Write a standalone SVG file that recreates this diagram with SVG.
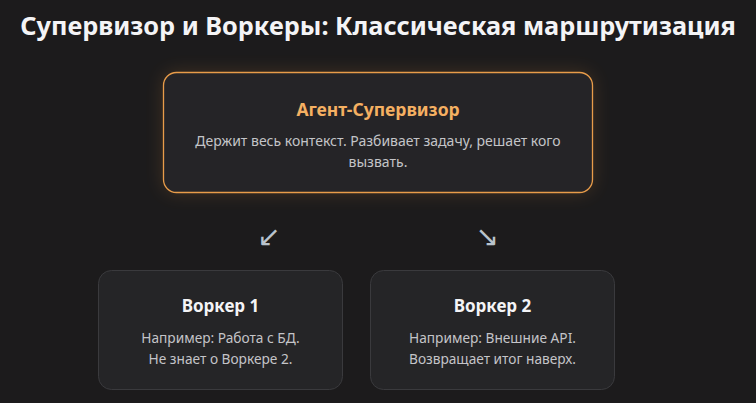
<svg xmlns="http://www.w3.org/2000/svg" width="756" height="403" viewBox="0 0 756 403">
  <defs>
    <filter id="glow" x="-20%" y="-40%" width="140%" height="180%">
      <feGaussianBlur stdDeviation="9"/>
    </filter>
    <style>
      text { font-family: "Noto Sans", "Open Sans", "DejaVu Sans", sans-serif; text-anchor: middle; }
      .title { font-size: 25.3px; font-weight: 700; fill: #f4f4f6; }
      .sup-title { font-size: 17.5px; font-weight: 700; fill: #f5b062; }
      .w-title { font-size: 17px; font-weight: 700; fill: #f4f4f6; }
      .desc { font-size: 14px; fill: #c4c4c8; }
      .wdesc { font-size: 13.7px; fill: #c4c4c8; }
      .arrow { font-family: "DejaVu Sans", sans-serif; font-size: 28px; fill: #b9c3cc; }
      .sup-box { fill: #252427; stroke: #e89c4a; stroke-width: 1.3; }
      .w-box { fill: #252527; stroke: #3a3a3d; stroke-width: 1; }
    </style>
  </defs>
  <rect width="756" height="403" fill="#1c1b1c"/>
  <text class="title" x="378" y="35">Супервизор и Воркеры: Классическая маршрутизация</text>

  <g id="supervisor">
    <rect x="163" y="72" width="430" height="121" rx="13" fill="#e8953a" opacity="0.18" filter="url(#glow)"/>
    <rect class="sup-box" x="163.5" y="72.5" width="429" height="120" rx="13"/>
    <text class="sup-title" x="378" y="116">Агент-Супервизор</text>
    <text class="desc" x="378" y="146">Держит весь контекст. Разбивает задачу, решает кого</text>
    <text class="desc" x="378" y="167">вызвать.</text>
  </g>

  <g id="connectors">
    <text class="arrow" x="269" y="246">↙</text>
    <text class="arrow" x="487" y="246">↘</text>
  </g>

  <g id="worker1">
    <rect class="w-box" x="98.5" y="270.5" width="244" height="119" rx="13"/>
    <text class="w-title" x="220.5" y="312">Воркер 1</text>
    <text class="wdesc" x="220.5" y="343">Например: Работа с БД.</text>
    <text class="wdesc" x="220.5" y="364">Не знает о Воркере 2.</text>
  </g>

  <g id="worker2">
    <rect class="w-box" x="370.5" y="270.5" width="244" height="119" rx="13"/>
    <text class="w-title" x="492.5" y="312">Воркер 2</text>
    <text class="wdesc" x="492.5" y="343">Например: Внешние API.</text>
    <text class="wdesc" x="492.5" y="364">Возвращает итог наверх.</text>
  </g>
</svg>
